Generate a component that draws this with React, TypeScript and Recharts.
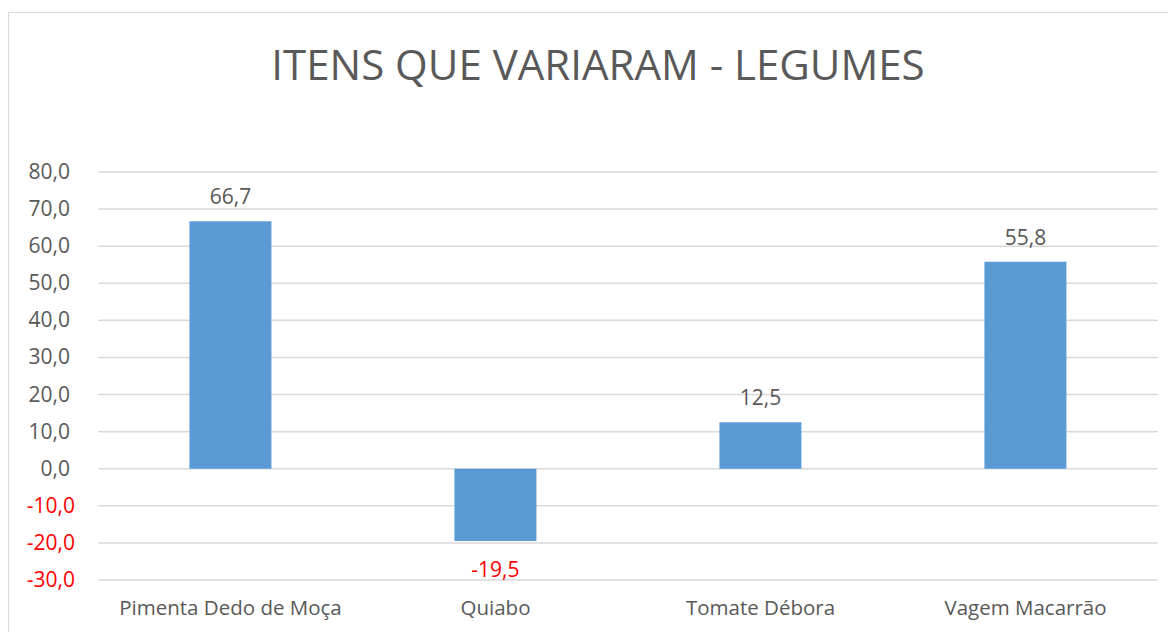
import React from "react";
import { BarChart, Bar, XAxis, YAxis, CartesianGrid, LabelList } from "recharts";

const categories = ["Pimenta Dedo de Moça", "Quiabo", "Tomate Débora", "Vagem Macarrão"];
const variation = [66.7, -19.5, 12.5, 55.8];
const yTicks = [-30, -20, -10, 0, 10, 20, 30, 40, 50, 60, 70, 80];
const title = "ITENS QUE VARIARAM - LEGUMES";

const data = categories.map((name, i) => ({ name, value: variation[i] }));

const FONT = "'Open Sans', 'Liberation Sans', sans-serif";
const GREY = "#595959";
const RED = "#FF0000";
const fmt = (v: number) => v.toFixed(1).replace(".", ",");

const YTick = (props: any) => {
  const { x, y, payload } = props;
  const v = payload.value as number;
  const neg = v < 0;
  return (
    <text
      x={x + (neg ? 5 : 0)}
      y={y}
      dy={7}
      textAnchor="end"
      fontFamily={FONT}
      fontSize={21}
      fill={neg ? RED : GREY}
    >
      {fmt(v)}
    </text>
  );
};

const XTick = (props: any) => {
  const { x, y, payload } = props;
  return (
    <text x={x} y={y} dy={7} textAnchor="middle" fontFamily={FONT} fontSize={20.5} fill={GREY}>
      {payload.value}
    </text>
  );
};

const ValueLabel = (props: any) => {
  const { x, y, width, height, value } = props;
  const v = value as number;
  const cx = x + width / 2;
  if (v < 0) {
    const bottom = Math.max(y, y + height);
    return (
      <text x={cx} y={bottom + 36} textAnchor="middle" fontFamily={FONT} fontSize={21} fill={RED}>
        {fmt(v)}
      </text>
    );
  }
  const top = Math.min(y, y + height);
  return (
    <text x={cx} y={top - 17} textAnchor="middle" fontFamily={FONT} fontSize={21} fill={GREY}>
      {fmt(v)}
    </text>
  );
};

export default function App() {
  return (
    <div
      style={{
        position: "relative",
        width: 1168,
        height: 620,
        marginTop: 4,
        borderLeft: "1.5px solid #d9d9d9",
        borderTop: "1.5px solid #d9d9d9",
        boxSizing: "border-box",
        overflow: "hidden",
      }}
    >
      <div
        style={{
          position: "absolute",
          left: 0,
          top: 26,
          width: 1178,
          textAlign: "center",
          fontFamily: FONT,
          fontSize: 42,
          color: GREY,
          lineHeight: "50px",
          whiteSpace: "nowrap",
        }}
      >
        {title}
      </div>
      <div style={{ position: "absolute", left: 0, top: 0 }}>
        <BarChart
          width={1168}
          height={620}
          data={data}
          margin={{ top: 159, right: 19, left: 0, bottom: 13 }}
          barCategoryGap="34.5%"
        >
          <CartesianGrid vertical={false} stroke="#d9d9d9" strokeWidth={1.5} />
          <XAxis
            dataKey="name"
            axisLine={false}
            tickLine={false}
            tick={<XTick />}
            tickSize={0}
            tickMargin={28}
            height={40}
            interval={0}
          />
          <YAxis
            type="number"
            domain={[-30, 80]}
            ticks={yTicks}
            axisLine={false}
            tickLine={false}
            tickSize={0}
            tickMargin={28}
            width={89}
            tick={<YTick />}
            interval={0}
          />
          <Bar dataKey="value" fill="#5B9BD5" isAnimationActive={false}>
            <LabelList dataKey="value" content={<ValueLabel />} />
          </Bar>
        </BarChart>
      </div>
    </div>
  );
}
